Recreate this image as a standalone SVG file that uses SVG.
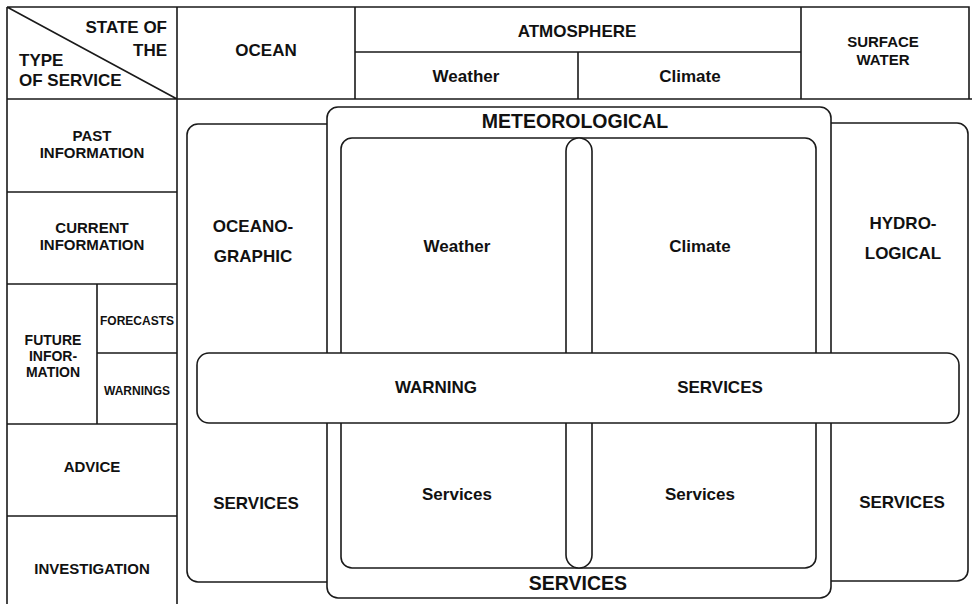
<svg xmlns="http://www.w3.org/2000/svg" width="972" height="604" viewBox="0 0 972 604">
<style>
.ln{stroke:#1a1a1a;stroke-width:1.6;fill:none}
.bx{stroke:#1a1a1a;stroke-width:1.6;fill:#fff}
text{font-family:"Liberation Sans",Arial,Helvetica,sans-serif;font-weight:bold;fill:#111;text-anchor:middle}
.h{font-size:17px}
.l{font-size:15px}
.f{font-size:14px}
.s{font-size:12px}
.b{font-size:19.5px}
</style>
<rect width="972" height="604" fill="#fff"/>
<g id="table">
<path class="ln" d="M7 7H969V99M7 7V604M177 7V604M355 7V99M801 7V99M578 52V99M355 52H801M7 99H972M7 7L177 99M7 192H177M7 284H177M7 424H177M7 516H177M97 284V424M97 353H177"/>
</g>
<g id="header-labels">
<text class="h" x="167" y="33" style="text-anchor:end">STATE OF</text>
<text class="h" x="167" y="56" style="text-anchor:end">THE</text>
<text class="h" x="19" y="66" style="text-anchor:start">TYPE</text>
<text class="h" x="19" y="86" style="text-anchor:start">OF SERVICE</text>
<text class="h" x="266" y="56">OCEAN</text>
<text class="h" x="577" y="37">ATMOSPHERE</text>
<text class="h" x="466" y="82">Weather</text>
<text class="h" x="690" y="82">Climate</text>
<text class="l" x="883" y="47">SURFACE</text>
<text class="l" x="883" y="65">WATER</text>
</g>
<g id="row-labels">
<text class="l" x="92" y="141">PAST</text>
<text class="l" x="92" y="158">INFORMATION</text>
<text class="l" x="92" y="233">CURRENT</text>
<text class="l" x="92" y="250">INFORMATION</text>
<text class="f" x="53" y="345">FUTURE</text>
<text class="f" x="53" y="361">INFOR-</text>
<text class="f" x="53" y="377">MATION</text>
<text class="s" x="137" y="325">FORECASTS</text>
<text class="s" x="137" y="395">WARNINGS</text>
<text class="l" x="92" y="472">ADVICE</text>
<text class="l" x="92" y="574">INVESTIGATION</text>
</g>
<g id="oceanographic">
<rect class="bx" x="187" y="124" width="170" height="458" rx="11"/>
<text class="h" x="253" y="232">OCEANO-</text>
<text class="h" x="253" y="262">GRAPHIC</text>
<text class="h" x="256" y="509">SERVICES</text>
</g>
<g id="hydrological">
<rect class="bx" x="800" y="123" width="168" height="458" rx="11"/>
<text class="h" x="903" y="229">HYDRO-</text>
<text class="h" x="903" y="259">LOGICAL</text>
<text class="h" x="902" y="508">SERVICES</text>
</g>
<g id="meteorological">
<rect class="bx" x="327" y="107" width="504" height="491" rx="11"/>
<text class="b" x="575" y="128">METEOROLOGICAL</text>
<text class="b" x="578" y="590">SERVICES</text>
</g>
<g id="weather-climate">
<rect class="bx" x="341" y="138" width="475" height="430" rx="11"/>
<text class="h" x="457" y="252">Weather</text>
<text class="h" x="700" y="252">Climate</text>
<text class="h" x="457" y="500">Services</text>
<text class="h" x="700" y="500">Services</text>
</g>
<g id="divider-pill">
<rect class="bx" x="566" y="138" width="26" height="430" rx="13"/>
</g>
<g id="warning">
<rect class="bx" x="197" y="353" width="762" height="70" rx="12"/>
<text class="h" x="436" y="393">WARNING</text>
<text class="h" x="720" y="393">SERVICES</text>
</g>
<g id="connectors"></g>
</svg>
